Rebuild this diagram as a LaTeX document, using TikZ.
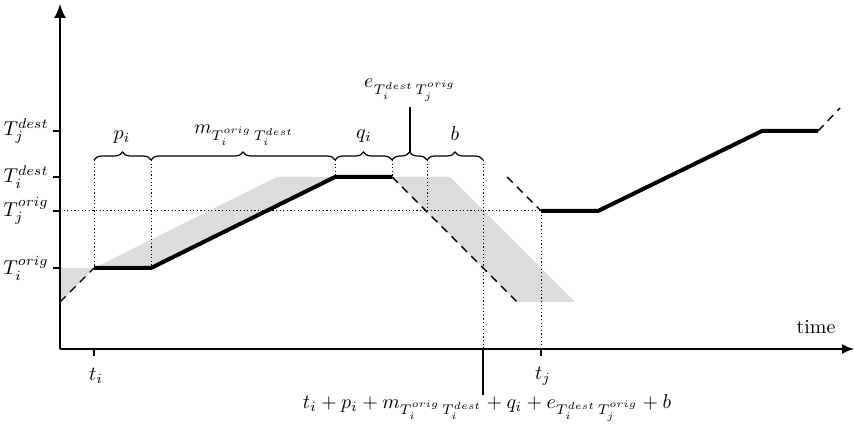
\documentclass[tikz,border=0pt]{standalone}
\usetikzlibrary{decorations.pathreplacing,arrows.meta}
\definecolor{lightgrayfill}{RGB}{220,220,220}
\begin{document}
\begin{tikzpicture}[x=0.5pt,y=-0.5pt,
  axis/.style={line width=0.9pt},
  heavy/.style={line width=2pt},
  dashline/.style={line width=0.7pt, dash pattern=on 4pt off 3pt},
  dotline/.style={line width=0.5pt, dash pattern=on 0.6pt off 1.2pt},
  brc/.style={decorate, decoration={brace, amplitude=4pt}, line width=0.6pt},
  lbl/.style={inner sep=1pt}]
\useasboundingbox (0,0) rectangle (854,426);
% shaded regions
\fill[lightgrayfill] (60,268) -- (94,268) -- (60,302) -- cycle;
\fill[lightgrayfill] (94,268) -- (277,177) -- (335,177) -- (151,268) -- cycle;
\fill[lightgrayfill] (392,177) -- (450,177) -- (575,302) -- (517,302) -- cycle;
% coordinates
\coordinate (O) at (60,349);
\coordinate (ytop) at (60,4);
\coordinate (xend) at (854,349);
\coordinate (a1) at (94,268);
\coordinate (a2) at (151,268);
\coordinate (a3) at (335,177);
\coordinate (a4) at (392,177);
\coordinate (a5) at (517,302);
\coordinate (a6) at (60,302);
\coordinate (c0) at (507,177);
\coordinate (c1) at (541,211);
\coordinate (c2) at (598,211);
\coordinate (c3) at (762,131);
\coordinate (c4) at (818,131);
\coordinate (c5) at (840,108);
\coordinate (x1) at (427,211);
% dotted guides
\draw[dotline] (60,211) -- (c1);
\draw[dotline] (94,160) -- (a1);
\draw[dotline] (151,160) -- (a2);
\draw[dotline] (335,160) -- (a3);
\draw[dotline] (392,160) -- (a4);
\draw[dotline] (427,160) -- (x1);
\draw[dotline] (483,160) -- (483,349);
\draw[dotline] (c1) -- (541,349);
% axes
\draw[axis,-{Latex[length=7pt,width=6pt]}] (O) -- (ytop);
\draw[axis,-{Latex[length=6pt,width=5pt]}] (O) -- (xend);
% ticks
\foreach \yy in {131,177,211,268} \draw[axis] (53,\yy) -- (60,\yy);
\draw[axis] (94,349) -- (94,356);
\draw[axis] (541,349) -- (541,356);
% trajectories
\draw[dashline] (a6) -- (a1);
\draw[heavy] (a1) -- (a2) -- (a3) -- (a4);
\draw[dashline] (a4) -- (a5);
\draw[dashline] (c0) -- (c1);
\draw[heavy] (c1) -- (c2) -- (c3) -- (c4);
\draw[dashline] (c4) -- (c5);
% braces
\draw[brc] (94,160) -- (151,160);
\draw[brc] (151,160) -- (335,160);
\draw[brc] (335,160) -- (392,160);
\draw[brc] (392,160) -- (427,160);
\draw[brc] (427,160) -- (483,160);
% labels
\node[lbl,anchor=east] (Tjd) at (51,131) {$T_j^{dest}$};
\node[lbl,anchor=east] (Tid) at (51,177) {$T_i^{dest}$};
\node[lbl,anchor=east] (Tjo) at (51,211) {$T_j^{orig}$};
\node[lbl,anchor=east] (Tio) at (51,268) {$T_i^{orig}$};
\node[lbl] (ti) at (96,376) {$t_i$};
\node[lbl] (tj) at (543,376) {$t_j$};
\node[lbl] (time) at (816,327) {time};
\node[lbl] (pi) at (122,137) {$p_i$};
\node[lbl] (mi) at (244,135) {$m_{T_i^{orig}\,T_i^{dest}}$};
\node[lbl] (qi) at (364,136) {$q_i$};
\node[lbl] (bb) at (455,134) {$b$};
\node[lbl] (ee) at (410,90) {$e_{T_i^{dest}\,T_j^{orig}}$};
\draw[line width=0.6pt] (410,152) -- (410,107);
\node[lbl] (sum) at (487,408) {$t_i+p_i+m_{T_i^{orig}\,T_i^{dest}}+q_i+e_{T_i^{dest}\,T_j^{orig}}+b$};
\draw[line width=0.6pt] (483,349) -- (483,395);
\end{tikzpicture}
\end{document}
